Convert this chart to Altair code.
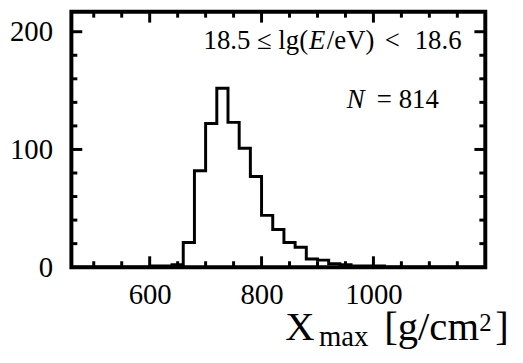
import altair as alt
import pandas as pd

# ---- data ----
bin_starts = [600, 620, 640, 660, 680, 700, 720, 740, 760, 780, 800, 820, 840,
              860, 880, 900, 920, 940, 960, 980, 1000]
counts = [1, 1, 2, 21, 82, 122, 152, 123, 101, 77, 44, 32, 21,
          17, 7, 6, 3, 2, 1, 1, 1]
bin_width = 20
x_domain = [460, 1200]
y_domain = [0, 217]
x_labels = [600, 800, 1000]
y_labels = [0, 100, 200]
x_ticks_major = [600, 800, 1000]
x_ticks_minor = [500, 550, 650, 700, 750, 850, 900, 950, 1050, 1100, 1150]
y_ticks_major = [100, 200]
y_ticks_minor = [20, 40, 60, 80, 120, 140, 160, 180]

W, H = 418, 258
FONT = "Liberation Serif"
MAJ, MIN = 11, 6

xs = [x_domain[0]] + bin_starts + [bin_starts[-1] + bin_width, x_domain[1]]
ys = [0] + counts + [0, 0]
hist_df = pd.DataFrame({"x": xs, "y": ys})

xsc = alt.Scale(domain=x_domain, nice=False, zero=False)
ysc = alt.Scale(domain=y_domain, nice=False)

x_axis = alt.Axis(
    values=x_labels, format="d", title=None, grid=False, ticks=False, domain=False,
    tickSize=0, labelFont=FONT, labelFontSize=29, labelColor="black",
    labelBaseline="alphabetic", labelPadding=37, labelFlush=False)
y_axis = alt.Axis(
    values=y_labels, format="d", title=None, grid=False, ticks=False, domain=False,
    tickSize=0, labelFont=FONT, labelFontSize=29, labelColor="black",
    labelPadding=19, labelFlush=False)

hist = alt.Chart(hist_df).mark_line(
    interpolate="step-after", color="black", strokeWidth=3, clip=True
).encode(
    x=alt.X("x:Q", scale=xsc, axis=x_axis),
    y=alt.Y("y:Q", scale=ysc, axis=y_axis),
)

def xticks(vals, L, top):
    df = pd.DataFrame({"x": vals})
    y0 = 0 if top else H
    y1 = L if top else H - L
    return alt.Chart(df).mark_rule(color="black", strokeWidth=3).encode(
        x=alt.X("x:Q", scale=xsc, axis=x_axis),
        y=alt.value(y0), y2=alt.value(y1))

def yticks(vals, L, right):
    df = pd.DataFrame({"y": vals})
    x0 = W if right else 0
    x1 = W - L if right else L
    return alt.Chart(df).mark_rule(color="black", strokeWidth=3).encode(
        y=alt.Y("y:Q", scale=ysc, axis=y_axis),
        x=alt.value(x0), x2=alt.value(x1))

tick_layers = [
    xticks(x_ticks_major, MAJ, False), xticks(x_ticks_minor, MIN, False),
    xticks(x_ticks_major, MAJ, True), xticks(x_ticks_minor, MIN, True),
    yticks(y_ticks_major, MAJ, False), yticks(y_ticks_minor, MIN, False),
    yticks(y_ticks_major, MAJ, True), yticks(y_ticks_minor, MIN, True),
]

one = pd.DataFrame({"k": [0]})

def txt(s, x, y, size, align="left", italic=False):
    kw = dict(text=s, font=FONT, fontSize=size, align=align,
              baseline="alphabetic", color="black")
    if italic:
        kw["fontStyle"] = "italic"
    return alt.Chart(one).mark_text(**kw).encode(x=alt.value(x), y=alt.value(y))

texts = [
    txt("18.5 ≤ lg(", 239, 38, 27, align="right"),
    txt("E", 240, 38, 27, italic=True),
    txt("/eV)", 258, 38, 27),
    txt("<", 324, 38, 27, align="center"),
    txt("18.6", 394, 38, 27, align="right"),
    txt("N", 278, 97, 27, italic=True),
    txt("=", 316, 97, 27, align="center"),
    txt("814", 371, 97, 27, align="right"),
    txt("X", 216, 332, 41),
    txt("max", 250, 338, 29),
    txt("[g/cm", 316, 332, 41),
    txt("2", 412, 322, 25),
    txt("]", 428, 332, 41),
]

chart = alt.layer(hist, *tick_layers, *texts).properties(
    width=W, height=H,
    autosize=alt.AutoSizeParams(type="none"),
    padding={"left": 64, "top": 2, "right": 30, "bottom": 93},
    background="white",
).configure_view(stroke="black", strokeWidth=4)

chart.save("out.html", embed_options={"renderer": "svg", "actions": False})
